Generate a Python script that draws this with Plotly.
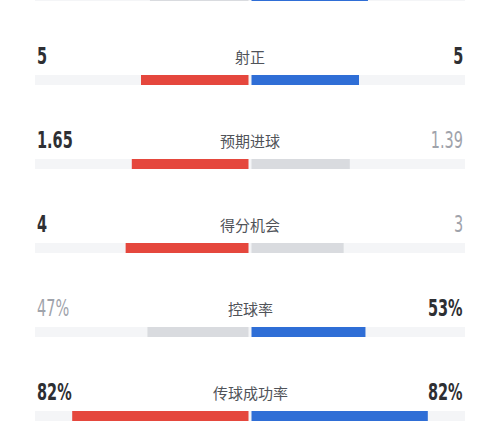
import plotly.graph_objects as go

# ---- data ----
labels = ["射门", "射正", "预期进球", "得分机会", "控球率", "传球成功率"]
home_vals = [11, 5, 1.65, 4, 47, 82]
away_vals = [13, 5, 1.39, 3, 53, 82]
home_text = ["11", "5", "1.65", "4", "47%", "82%"]
away_text = ["13", "5", "1.39", "3", "53%", "82%"]
is_pct = [False, False, False, False, True, True]

RED = "#e5473d"
BLUE = "#2f6ed6"
GREY = "#d9dbdf"
TRACK = "#f4f5f7"
DARK = "#2e2f33"
LIGHT = "#9fa3ab"

rows = list(range(len(labels)))
gap = 0.007

home_frac, away_frac = [], []
for h, a, p in zip(home_vals, away_vals, is_pct):
    if p:
        home_frac.append(h / 100.0)
        away_frac.append(a / 100.0)
    else:
        home_frac.append(h / (h + a))
        away_frac.append(a / (h + a))

home_col = [RED if h >= a else GREY for h, a in zip(home_vals, away_vals)]
away_col = [BLUE if a >= h else GREY for h, a in zip(home_vals, away_vals)]

fig = go.Figure()
bw = 0.12
# track
fig.add_trace(go.Bar(y=rows, x=[2.0] * len(rows), base=[-1.0] * len(rows), orientation="h",
                     marker=dict(color=TRACK, line=dict(width=0)), width=bw, hoverinfo="skip"))
fig.add_trace(go.Bar(y=rows, x=[-f for f in home_frac], base=[-gap] * len(rows), orientation="h",
                     marker=dict(color=home_col, line=dict(width=0)), width=bw, hoverinfo="skip"))
fig.add_trace(go.Bar(y=rows, x=away_frac, base=[gap] * len(rows), orientation="h",
                     marker=dict(color=away_col, line=dict(width=0)), width=bw, hoverinfo="skip"))

num_font = "DejaVu Sans Condensed, Liberation Sans Narrow, Roboto, sans-serif"
ann = []
for r, lab, h, a, ht, at in zip(rows, labels, home_vals, away_vals, home_text, away_text):
    yt = r - 0.285
    ann.append(dict(x=0, y=yt, xref="x", yref="y", text=lab, showarrow=False,
                    font=dict(family="Noto Sans CJK SC", size=15, color="#505359"),
                    xanchor="center", yanchor="middle"))
    hw = h >= a
    aw = a >= h
    ann.append(dict(x=-1.0, y=yt, xref="x", yref="y", text=ht, showarrow=False,
                    font=dict(family=num_font, size=23, color=DARK if hw else LIGHT,
                              weight="bold" if hw else "normal"),
                    xanchor="left", yanchor="middle"))
    ann.append(dict(x=1.0, y=yt, xref="x", yref="y", text=at, showarrow=False,
                    font=dict(family=num_font, size=23, color=DARK if aw else LIGHT,
                              weight="bold" if aw else "normal"),
                    xanchor="right", yanchor="middle"))

fig.update_layout(
    width=500, height=440,
    margin=dict(l=0, r=0, t=0, b=0),
    paper_bgcolor="white", plot_bgcolor="white",
    barmode="overlay", showlegend=False,
    annotations=ann,
    xaxis=dict(range=[-250 / 215, 250 / 215], visible=False, fixedrange=True),
    yaxis=dict(range=[444 / 84, 4 / 84], visible=False, fixedrange=True),
)

post = """
document.body.style.margin='0';document.body.style.overflow='hidden';
function squeeze(){
  var gd=document.querySelector('.plotly-graph-div');
  if(!gd) return;
  gd.querySelectorAll('g.annotation').forEach(function(g){
    var t=g.querySelector('text.annotation-text');
    if(!t||t.getAttribute('data-sq')) return;
    if(!/^[0-9.%]+$/.test(t.textContent.trim())) return;
    var b=t.getBBox();
    var idx=+g.getAttribute('data-index');
    var x0=(idx%3==1)? b.x : b.x+b.width;
    var old=t.getAttribute('transform')||'';
    t.setAttribute('transform', old+' translate('+x0+',0) scale(0.7,1) translate('+(-x0)+',0)');
    t.setAttribute('data-sq','1');
  });
}
squeeze(); setTimeout(squeeze,50); setTimeout(squeeze,300);
"""

fig.write_html("out.html", config={"displayModeBar": False}, post_script=post)
